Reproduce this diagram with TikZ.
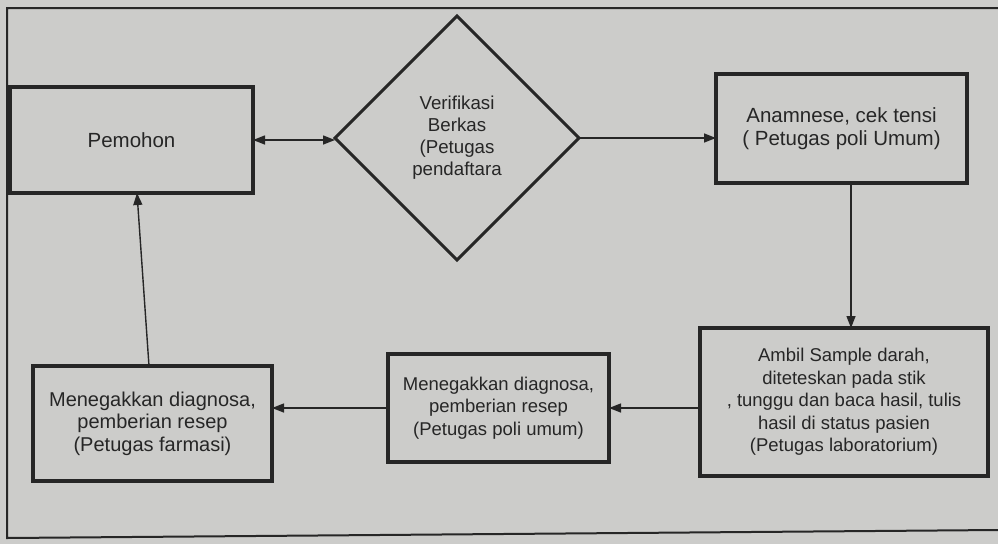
\documentclass[tikz,border=0pt]{standalone}
\usepackage{fontspec}
\setmainfont{Liberation Sans}
\usetikzlibrary{shapes.geometric,arrows.meta}
\definecolor{paper}{RGB}{204,204,202}
\definecolor{ink}{RGB}{38,38,38}
\begin{document}
\begin{tikzpicture}[x=1pt,y=-1pt,
  box/.style={draw=ink,line width=3.5pt,rectangle,inner sep=0pt,outer sep=0pt,align=center,text=ink},
  dec/.style={draw=ink,line width=3pt,diamond,inner sep=0pt,outer sep=0pt,align=center,text=ink,minimum width=244pt,minimum height=244pt},
  conn/.style={draw=ink,line width=1.4pt},
  tip/.style={-{Triangle[length=12pt,width=9pt]}},
  bothtips/.style={{Triangle[length=12pt,width=9pt]}-{Triangle[length=12pt,width=9pt]}},
  bigtxt/.style={font=\fontsize{20.5}{23}\selectfont},
  smalltxt/.style={font=\fontsize{18.5}{22.5}\selectfont}]
\fill[paper] (0,0) rectangle (998,544);
\useasboundingbox (0,0) rectangle (998,544);
\draw[ink,line width=2pt] (998,8) -- (7,8) -- (7,538) -- (998,530);

\node[box,bigtxt,minimum width=243pt,minimum height=106pt] (pemohon) at (131.5,140) {Pemohon};
\node[dec,font=\fontsize{18.7}{22}\selectfont] (verif) at (457,138) {Verifikasi\\Berkas\\(Petugas\\pendaftara};
\node[box,bigtxt,minimum width=251pt,minimum height=109pt] (anam) at (841.5,128.5) {Anamnese, cek tensi\\( Petugas poli Umum)};
\node[box,smalltxt,minimum width=288pt,minimum height=148pt] (lab) at (844,402) {Ambil Sample darah,\\diteteskan pada stik\\, tunggu dan baca hasil, tulis\\hasil di status pasien\\(Petugas laboratorium)};
\node[box,smalltxt,minimum width=221pt,minimum height=108pt] (mid) at (498.5,408) {Menegakkan diagnosa,\\pemberian resep\\(Petugas poli umum)};
\node[box,font=\fontsize{20}{22.5}\selectfont,minimum width=239pt,minimum height=115pt] (farm) at (152.5,423.5) {Menegakkan diagnosa,\\pemberian resep\\(Petugas farmasi)};

\draw[conn,bothtips] (pemohon.east) -- (pemohon.east -| verif.west);
\draw[conn,tip] (verif.east) -- (verif.east -| anam.west);
\draw[conn,tip] ([xshift=9.5pt]anam.south) -- ([xshift=9.5pt]anam.south |- lab.north);
\draw[conn,tip] (mid.east -| lab.west) -- (mid.east);
\draw[conn,tip] (mid.west) -- (mid.west -| farm.east);
\draw[conn,tip] ([xshift=-3.5pt]farm.north) -- ([xshift=5.5pt]pemohon.south);
\end{tikzpicture}
\end{document}
